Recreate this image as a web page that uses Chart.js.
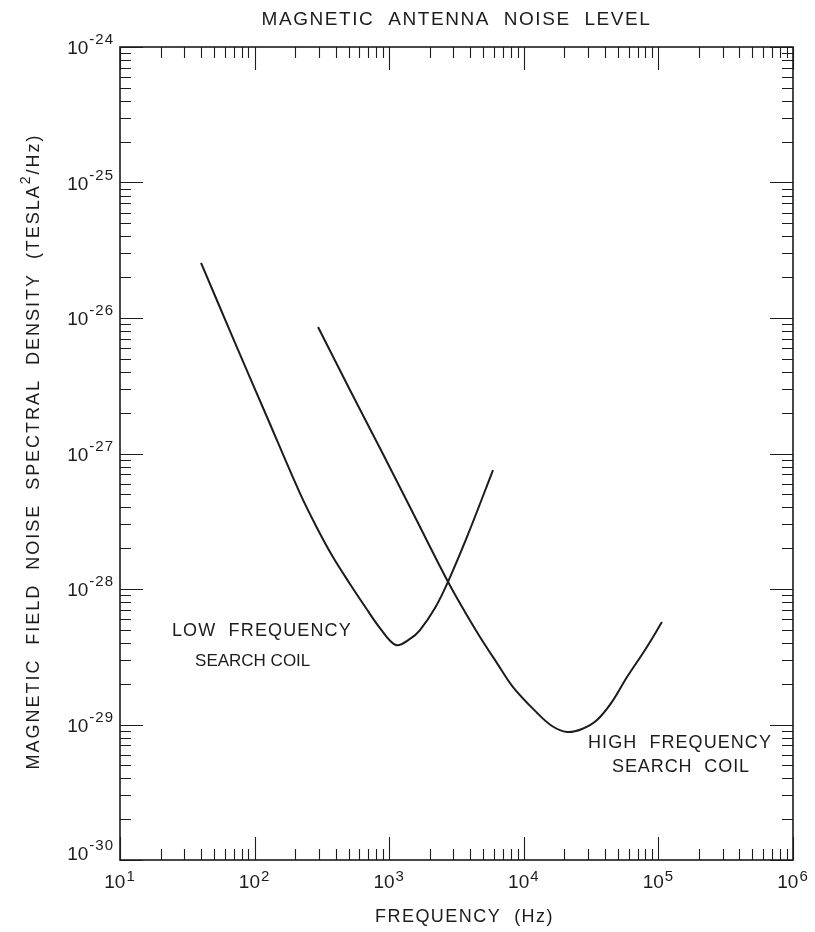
<!DOCTYPE html>
<html><head><meta charset="utf-8">
<script src="https://cdn.jsdelivr.net/npm/chart.js@4/dist/chart.umd.min.js"></script>
<style>html,body{margin:0;padding:0;background:#fff}#wrap{width:815px;height:932px}</style>
</head><body><div id="wrap"><canvas id="c" width="815" height="932"></canvas></div>
<script>
// ---- data ----
const lowFreqHz = [40.0, 69.1, 123.6, 217, 291, 382, 511, 672, 854, 1123, 1427, 1693, 2189, 2734, 3784, 5904];
const lowFreqNoise = [2.55e-26, 7.11e-27, 1.86e-27, 5.10e-28, 2.82e-28, 1.72e-28, 1.09e-28, 7.24e-29, 5.15e-29, 3.86e-29, 4.28e-29, 4.98e-29, 7.24e-29, 1.13e-28, 2.42e-28, 7.55e-28];
const highFreqHz = [296, 511, 899, 1555, 2734, 3656, 4727, 6322, 8315, 12530, 16200, 20940, 27060, 34990, 45220, 58450, 79510, 106300];
const highFreqNoise = [8.59e-27, 2.94e-27, 9.91e-28, 3.40e-28, 1.13e-28, 6.76e-29, 4.43e-29, 2.84e-29, 1.89e-29, 1.22e-29, 9.75e-30, 8.81e-30, 9.27e-30, 1.08e-29, 1.47e-29, 2.24e-29, 3.55e-29, 5.70e-29];
const xTickExponents = [1, 2, 3, 4, 5, 6];
const yTickExponents = [-24, -25, -26, -27, -28, -29, -30];
const minorMultipliers = [2, 3, 4, 5, 6, 7, 8, 9];
const chartTitle = 'MAGNETIC  ANTENNA  NOISE  LEVEL';
const xAxisTitle = 'FREQUENCY  (Hz)';
const yAxisTitleParts = ['MAGNETIC  FIELD  NOISE  SPECTRAL  DENSITY  (TESLA', '2', '/Hz)'];
const curveLabelText = ['LOW  FREQUENCY', 'SEARCH COIL', 'HIGH  FREQUENCY', 'SEARCH  COIL'];
const curveLabelHz = [24.3, 36.1, 29990, 45200];
const curveLabelNoise = [4.50e-29, 2.70e-29, 6.71e-30, 4.46e-30];

// ---- styling / layout ----
const INK = '#1c1c1c';
const FONT = '"Liberation Sans", "DejaVu Sans", Arial, sans-serif';
const curveLabelWidths = [180, 114, 184, 138];
const curveLabelSizes = [18, 17, 18, 18];

// draw a run of text segments stretched to a given width
function drawRun(ctx, segs, x, y, width, center) {
  let w0 = 0, n = 0;
  segs.forEach(s => { ctx.font = s.font; ctx.letterSpacing = '0px'; w0 += ctx.measureText(s.t).width; n += [...s.t].length; });
  const sp = Math.max(0, (width - w0) / n);
  let cur = center ? x - width / 2 : x;
  ctx.textAlign = 'left';
  segs.forEach(s => {
    ctx.font = s.font;
    ctx.letterSpacing = sp + 'px';
    ctx.fillText(s.t, cur, y - (s.raise || 0));
    cur += ctx.measureText(s.t).width;
  });
  ctx.letterSpacing = '0px';
}

function powerMetrics(ctx, exp) {
  ctx.letterSpacing = '0px';
  ctx.font = '19px ' + FONT;
  const w10 = ctx.measureText('10').width;
  ctx.font = '15px ' + FONT;
  ctx.letterSpacing = '1px';
  const we = ctx.measureText(String(exp)).width;
  ctx.letterSpacing = '0px';
  return { w10, we, w: w10 + we + 1 };
}
function drawPower(ctx, exp, left, base, raise) {
  const m = powerMetrics(ctx, exp);
  ctx.textAlign = 'left';
  ctx.font = '19px ' + FONT;
  ctx.fillText('10', left, base);
  ctx.font = '15px ' + FONT;
  ctx.letterSpacing = '1px';
  ctx.fillText(String(exp), left + m.w10 + 1, base - raise);
  ctx.letterSpacing = '0px';
}

const decorPlugin = {
  id: 'decor',
  afterDraw(chart) {
    const { ctx, chartArea: a, scales: { x, y } } = chart;
    ctx.save();
    ctx.strokeStyle = INK;
    ctx.fillStyle = INK;
    ctx.lineWidth = 1.6;
    ctx.strokeRect(a.left, a.top, a.right - a.left, a.bottom - a.top);

    const MAJ = 23, MIN = 11;
    ctx.lineWidth = 1.1;
    ctx.beginPath();
    const vx = (px, len) => {
      const p = Math.round(px) + 0.5;
      ctx.moveTo(p, a.bottom); ctx.lineTo(p, a.bottom - len);
      ctx.moveTo(p, a.top); ctx.lineTo(p, a.top + len);
    };
    const hy = (py, len) => {
      const p = Math.round(py) + 0.5;
      ctx.moveTo(a.left, p); ctx.lineTo(a.left + len, p);
      ctx.moveTo(a.right, p); ctx.lineTo(a.right - len, p);
    };
    xTickExponents.forEach((e, i) => {
      vx(x.getPixelForValue(Math.pow(10, e)), MAJ);
      if (i < xTickExponents.length - 1) {
        minorMultipliers.forEach(m => vx(x.getPixelForValue(m * Math.pow(10, e)), MIN));
      }
    });
    yTickExponents.forEach((e, i) => {
      hy(y.getPixelForValue(Math.pow(10, e)), MAJ);
      if (i < yTickExponents.length - 1) {
        minorMultipliers.forEach(m => hy(y.getPixelForValue(m * Math.pow(10, e - 1)), MIN));
      }
    });
    ctx.stroke();

    // tick labels
    xTickExponents.forEach(e => {
      const px = x.getPixelForValue(Math.pow(10, e));
      const m = powerMetrics(ctx, e);
      drawPower(ctx, e, px - m.w / 2, a.bottom + 28, 7);
    });
    yTickExponents.forEach((e, i) => {
      const py = y.getPixelForValue(Math.pow(10, e));
      const m = powerMetrics(ctx, e);
      const base = (i === yTickExponents.length - 1) ? py : py + 7;
      drawPower(ctx, e, a.left - 6 - m.w, base, 10);
    });

    // titles
    const cx = (a.left + a.right) / 2;
    drawRun(ctx, [{ t: chartTitle, font: '19px ' + FONT }], cx, 25, 390, true);
    drawRun(ctx, [{ t: xAxisTitle, font: '18px ' + FONT }], cx + 8, 922, 179, true);
    ctx.save();
    ctx.translate(39, (a.top + a.bottom) / 2 - 2);
    ctx.rotate(-Math.PI / 2);
    drawRun(ctx, [
      { t: yAxisTitleParts[0], font: '18px ' + FONT },
      { t: yAxisTitleParts[1], font: '14px ' + FONT, raise: 9 },
      { t: yAxisTitleParts[2], font: '18px ' + FONT }
    ], 0, 0, 636, true);
    ctx.restore();

    // curve labels
    curveLabelText.forEach((t, i) => {
      const px = x.getPixelForValue(curveLabelHz[i]);
      const py = y.getPixelForValue(curveLabelNoise[i]);
      drawRun(ctx, [{ t, font: curveLabelSizes[i] + 'px ' + FONT }], px, py, curveLabelWidths[i], false);
    });
    ctx.restore();
  }
};

const toPoints = (xs, ys) => xs.map((v, i) => ({ x: v, y: ys[i] }));

new Chart(document.getElementById('c'), {
  type: 'line',
  data: {
    datasets: [
      { label: 'Low frequency search coil', data: toPoints(lowFreqHz, lowFreqNoise),
        borderColor: INK, borderWidth: 2, pointRadius: 0, fill: false, tension: 0.35 },
      { label: 'High frequency search coil', data: toPoints(highFreqHz, highFreqNoise),
        borderColor: INK, borderWidth: 2, pointRadius: 0, fill: false, tension: 0.35 }
    ]
  },
  options: {
    responsive: false,
    animation: false,
    devicePixelRatio: 1,
    layout: { padding: { left: 120, right: 22, top: 47, bottom: 72 } },
    plugins: { legend: { display: false }, tooltip: { enabled: false }, title: { display: false } },
    scales: {
      x: { type: 'logarithmic', min: 10, max: 1e6, display: false },
      y: { type: 'logarithmic', min: 1e-30, max: 1e-24, display: false }
    }
  },
  plugins: [decorPlugin]
});
</script>
</body></html>
